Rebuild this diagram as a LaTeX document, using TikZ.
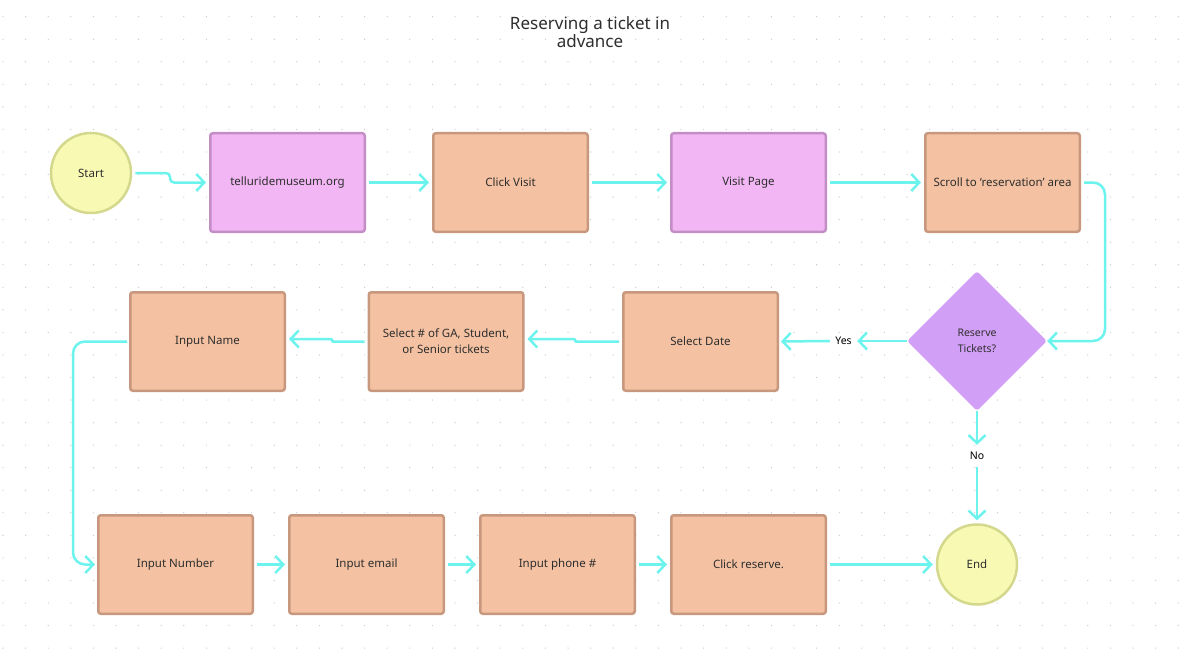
\documentclass[tikz,border=0pt]{standalone}
\usepackage{fontspec}
\setmainfont{Noto Sans}
\usetikzlibrary{shapes.geometric,arrows.meta}
\definecolor{orfill}{HTML}{F4C2A2}
\definecolor{ordraw}{HTML}{C8987E}
\definecolor{pkfill}{HTML}{F1B6F3}
\definecolor{pkdraw}{HTML}{C38EC6}
\definecolor{ylfill}{HTML}{F8FAB4}
\definecolor{yldraw}{HTML}{D4D88C}
\definecolor{dmfill}{HTML}{D29FF6}
\definecolor{cyanline}{HTML}{6DF3EE}
\definecolor{txt}{HTML}{2E2E2E}
\definecolor{dotc}{HTML}{C8C8C8}
\tikzset{
  box/.style={rectangle, rounded corners=2.5pt, line width=2.5pt, minimum width=154.5pt, minimum height=98.5pt, inner sep=2pt, text=txt, font=\fontsize{11.5}{16}\selectfont, align=center},
  obox/.style={box, fill=orfill, draw=ordraw},
  pbox/.style={box, fill=pkfill, draw=pkdraw},
  term/.style={circle, line width=2.5pt, fill=ylfill, draw=yldraw, minimum size=80pt, inner sep=0pt, text=txt, font=\fontsize{11.5}{16}\selectfont},
  decision/.style={diamond, aspect=1, fill=dmfill, minimum width=140pt, minimum height=140pt, inner sep=0pt, rounded corners=3pt, text=txt, font=\fontsize{10.5}{16}\selectfont, align=center},
  lbl/.style={inner sep=0pt, text=black, font=\fontsize{10.5}{12}\selectfont},
  arr/.style={draw=cyanline, line width=2.5pt, -{Straight Barb[length=8pt, width=17pt, line width=2.5pt]}},
}
\begin{document}
\begin{tikzpicture}[x=1pt,y=-1pt]
\useasboundingbox (0,0) rectangle (1188,658);
\fill[white] (0,0) rectangle (1188,658);
% dot grid
\foreach \i in {0,...,52} {
  \foreach \j in {0,...,28} {
    \fill[dotc] ({3+22.6*\i},{16.7+22.55*\j}) circle (0.65pt);
  }
}
% title
\node[text=txt, font=\fontsize{17}{18}\selectfont, align=center] (title) at (590,32) {Reserving a ticket in\\advance};
% nodes
\node[term] (start) at (91,173) {Start};
\node[pbox] (tell) at (287.5,182.5) {telluridemuseum.org};
\node[obox] (click) at (510.5,182.5) {Click Visit};
\node[pbox] (visitp) at (748.5,182.5) {Visit Page};
\node[obox] (scroll) at (1002.5,182.5) {Scroll to ‘reservation’ area};
\node[decision] (dec) at (977,341) {Reserve\\Tickets?};
\node[obox] (date) at (700.5,341.5) {Select Date};
\node[obox] (selnum) at (446,341.5) {Select \# of GA, Student,\\or Senior tickets};
\node[obox] (name) at (207.5,341.5) {Input Name};
\node[obox] (number) at (175.5,564.5) {Input Number};
\node[obox] (email) at (366.5,564.5) {Input email};
\node[obox] (phone) at (557.5,564.5) {Input phone \#};
\node[obox] (reserve) at (748.5,564.5) {Click reserve.};
\node[term] (endn) at (977,564.5) {End};
\node[lbl, minimum width=27pt, minimum height=12pt] (yes) at (843.5,341) {Yes};
\node[lbl, minimum width=20pt, minimum height=22pt] (no) at (977,456) {No};
% connectors
\draw[arr, rounded corners=4pt, shorten <=3pt, shorten >=3pt] (start.east) -- (170,173) |- (tell.west);
\draw[arr, shorten <=3pt, shorten >=3pt] (tell) -- (click);
\draw[arr, shorten <=3pt, shorten >=3pt] (click) -- (visitp);
\draw[arr, shorten <=3pt, shorten >=3pt] (visitp) -- (scroll);
\draw[arr, rounded corners=12pt, shorten <=3pt, shorten >=0pt] (scroll.east) -- (1105,182.5) |- (dec.east);
\draw[arr] (dec.west) -- (yes.east);
\draw[arr, shorten >=2pt] (yes.west) -- (date.east);
\draw[arr] (dec.south) -- (no.north);
\draw[arr, shorten >=3pt] (no.south) -- (endn.north);
\draw[arr, rounded corners=1pt, shorten <=3pt, shorten >=3pt] (date.west) -- (575,341.5) -- (575,339) -- (selnum.east |- 0,339);
\draw[arr, rounded corners=1pt, shorten <=3pt, shorten >=3pt] (selnum.west) -- (332,341.5) -- (332,339) -- (name.east |- 0,339);
\draw[arr, rounded corners=12pt, shorten <=2pt, shorten >=2pt] (name.west) -- (73,341.5) |- (number.west);
\draw[arr, shorten <=3pt, shorten >=3pt] (number) -- (email);
\draw[arr, shorten <=3pt, shorten >=3pt] (email) -- (phone);
\draw[arr, shorten <=3pt, shorten >=3pt] (phone) -- (reserve);
\draw[arr, shorten <=3pt, shorten >=3pt] (reserve) -- (endn);
\end{tikzpicture}
\end{document}
